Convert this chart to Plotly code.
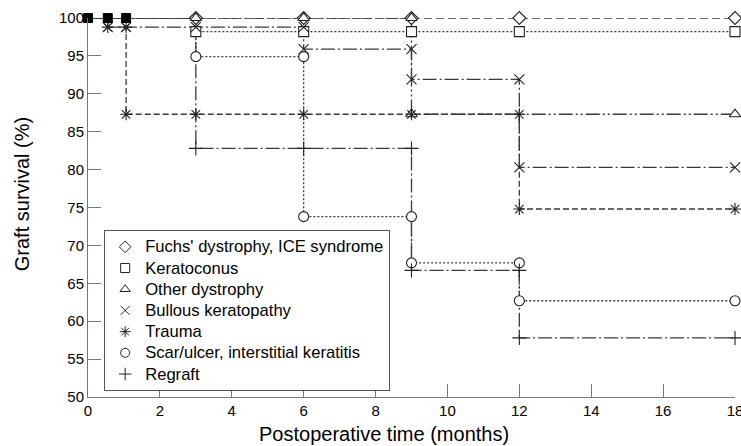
import plotly.graph_objects as go

# ---- data (months, graft survival %) ----
fuchs_line_t = [0, 18]
fuchs_line_s = [100, 100]
fuchs_mk_t = [3, 6, 9, 12, 18]
fuchs_mk_s = [100, 100, 100, 100, 100]

kerato_line_t = [0, 3, 3, 18]
kerato_line_s = [100, 100, 98.2, 98.2]
kerato_mk_t = [3, 6, 9, 12, 18]
kerato_mk_s = [98.2, 98.2, 98.2, 98.2, 98.2]

other_line_t = [0, 9, 9, 18]
other_line_s = [100, 100, 87.3, 87.3]
other_mk_t = [3, 6, 9, 9, 18]
other_mk_s = [100, 100, 100, 87.3, 87.3]

bullous_line_t = [0, 0.55, 0.55, 6, 6, 9, 9, 12, 12, 18]
bullous_line_s = [100, 100, 98.8, 98.8, 95.9, 95.9, 91.9, 91.9, 80.3, 80.3]
bullous_mk_t = [0.55, 1.06, 3, 6, 6, 9, 9, 12, 12, 18]
bullous_mk_s = [98.8, 98.8, 98.8, 98.8, 95.9, 95.9, 91.9, 91.9, 80.3, 80.3]

trauma_line_t = [0, 0.55, 0.55, 1.06, 1.06, 12, 12, 18]
trauma_line_s = [100, 100, 98.8, 98.8, 87.3, 87.3, 74.8, 74.8]
trauma_mk_t = [0.55, 1.06, 1.06, 3, 6, 9, 12, 12, 18]
trauma_mk_s = [98.8, 98.8, 87.3, 87.3, 87.3, 87.3, 87.3, 74.8, 74.8]

scar_line_t = [0, 3, 3, 6, 6, 9, 9, 12, 12, 18]
scar_line_s = [100, 100, 94.9, 94.9, 73.8, 73.8, 67.7, 67.7, 62.7, 62.7]
scar_mk_t = [3, 6, 6, 9, 9, 12, 12, 18]
scar_mk_s = [94.9, 94.9, 73.8, 73.8, 67.7, 67.7, 62.7, 62.7]

regraft_line_t = [0, 3, 3, 9, 9, 12, 12, 18]
regraft_line_s = [100, 100, 82.8, 82.8, 66.7, 66.7, 57.8, 57.8]
regraft_mk_t = [3, 6, 9, 9, 12, 12, 18]
regraft_mk_s = [82.8, 82.8, 82.8, 66.7, 66.7, 57.8, 57.8]

start_t = [0, 0.55, 1.06]
start_s = [100, 100, 100]

names = ["Fuchs' dystrophy, ICE syndrome", "Keratoconus", "Other dystrophy",
         "Bullous keratopathy", "Trauma", "Scar/ulcer, interstitial keratitis", "Regraft"]

x_ticks = [0, 2, 4, 6, 8, 10, 12, 14, 16, 18]
y_ticks = [50, 55, 60, 65, 70, 75, 80, 85, 90, 95, 100]
x_title = "Postoperative time (months)"
y_title = "Graft survival (%)"

# ---- styles ----
LC = "#3a3a3a"
MC = "#222222"
styles = [
    dict(sym="diamond", fill="white", dash="8px,4px"),
    dict(sym="square", fill="white", dash="2px,2px"),
    dict(sym="triangle-up", fill="white", dash="14px,3px,2px,3px,2px,3px"),
    dict(sym="x-thin-open", fill=MC, dash="14px,3px,2px,3px"),
    dict(sym="asterisk-open", fill=MC, dash="6px,3px"),
    dict(sym="circle", fill="white", dash="2px,2px"),
    dict(sym="cross-thin-open", fill=MC, dash="14px,3px,2px,3px"),
]
data = [
    (fuchs_line_t, fuchs_line_s, fuchs_mk_t, fuchs_mk_s),
    (kerato_line_t, kerato_line_s, kerato_mk_t, kerato_mk_s),
    (other_line_t, other_line_s, other_mk_t, other_mk_s),
    (bullous_line_t, bullous_line_s, bullous_mk_t, bullous_mk_s),
    (trauma_line_t, trauma_line_s, trauma_mk_t, trauma_mk_s),
    (scar_line_t, scar_line_s, scar_mk_t, scar_mk_s),
    (regraft_line_t, regraft_line_s, regraft_mk_t, regraft_mk_s),
]

fig = go.Figure()
for (lt, ls, mt, ms), st in zip(data, styles):
    fig.add_trace(go.Scatter(x=lt, y=ls, mode="lines", showlegend=False,
                             line=dict(color=LC, width=1.3, dash=st["dash"]),
                             cliponaxis=False, hoverinfo="skip"))
for (lt, ls, mt, ms), st in zip(data, styles):
    fig.add_trace(go.Scatter(x=mt, y=ms, mode="markers", showlegend=False,
                             marker=dict(symbol=st["sym"], size=10, color=st["fill"],
                                         line=dict(color=MC, width=1.1)),
                             cliponaxis=False))
fig.add_trace(go.Scatter(x=start_t, y=start_s, mode="markers", showlegend=False,
                         marker=dict(symbol="square", size=9, color="black",
                                     line=dict(color="black", width=1)),
                         cliponaxis=False))
for name, st in zip(names, styles):
    fig.add_trace(go.Scatter(x=[None], y=[None], mode="markers",
                             name='<span style="font-size:16.6px">' + name + '</span>',
                             marker=dict(symbol=st["sym"], size=9, color=st["fill"],
                                         line=dict(color=MC, width=1))))

axis_common = dict(showgrid=False, zeroline=False, showline=True, linecolor="#777777",
                   linewidth=1, ticks="inside", ticklen=13, tickcolor="#777777",
                   tickfont=dict(size=15, color="black"), automargin=False,
                   ticklabeloverflow="allow")

fig.update_layout(
    width=741, height=446,
    margin=dict(l=88, r=6, t=18, b=49),
    paper_bgcolor="white", plot_bgcolor="white",
    font=dict(family="Liberation Sans, Arial, sans-serif", color="black"),
    xaxis=dict(range=[0, 18], tickvals=x_ticks, **axis_common),
    yaxis=dict(range=[50, 100], tickvals=y_ticks, **axis_common),
    legend=dict(x=0.025, y=0.44, xanchor="left", yanchor="top",
                bgcolor="white", bordercolor="#555555", borderwidth=1,
                font=dict(size=14), tracegroupgap=0, itemwidth=30),
    annotations=[
        dict(text=x_title, xref="paper", yref="paper", x=0.4575, y=-0.097,
             xanchor="center", yanchor="middle", showarrow=False, font=dict(size=20)),
        dict(text=y_title, xref="paper", yref="paper", x=-0.102, y=0.535,
             xanchor="center", yanchor="middle", textangle=-90, showarrow=False,
             font=dict(size=20)),
    ],
)

fig.write_html("out.html", config={"displayModeBar": False},
               post_script="document.body.style.margin='0';document.body.style.padding='0';")
